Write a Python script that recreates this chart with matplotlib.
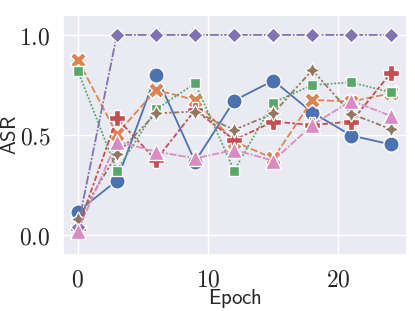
import matplotlib
matplotlib.use("Agg")
import matplotlib.pyplot as plt
import seaborn as sns
from matplotlib.ticker import FuncFormatter

sns.set_theme(style="darkgrid")
plt.rcParams['mathtext.fontset'] = 'cm'

epochs = [0, 3, 6, 9, 12, 15, 18, 21, 24]
s_blue = [0.117, 0.272, 0.80, 0.367, 0.672, 0.772, 0.612, 0.497, 0.453]
s_orange = [0.875, 0.505, 0.725, 0.675, 0.467, 0.383, 0.675, 0.667, 0.708]
s_green = [0.822, 0.322, 0.628, 0.758, 0.322, 0.662, 0.75, 0.763, 0.713]
s_red = [0.033, 0.583, 0.375, 0.625, 0.475, 0.567, 0.55, 0.567, 0.808]
s_purple = [0.04, 1.0, 1.0, 1.0, 1.0, 1.0, 1.0, 1.0, 1.0]
s_brown = [0.078, 0.405, 0.608, 0.617, 0.525, 0.608, 0.825, 0.605, 0.53]
s_pink = [0.02, 0.467, 0.417, 0.383, 0.425, 0.372, 0.55, 0.672, 0.595]

series = [s_blue, s_orange, s_green, s_red, s_purple, s_brown, s_pink]
palette = sns.color_palette("deep")
markers = ["o", "X", (4, 0, 45), "P", (4, 0, 0), (4, 1, 0), "^"]
dashes = ["", (4, 1.5), (1, 1), (3, 1.25, 1.5, 1.25), (5, 1, 1, 1),
          (3, 1.25, 1.25, 1.25, 1.25, 1.25), (4, 1, 4, 1, 1, 1)]

fig = plt.figure(figsize=(4.15, 3.11), dpi=100)
ax = fig.add_axes([0.152, 0.180, 0.829, 0.772])

for i, ys in enumerate(series):
    kw = dict(color=palette[i], marker=markers[i], markersize=11,
              markeredgecolor='white', markeredgewidth=1, linewidth=1.3)
    line, = ax.plot(epochs, ys, **kw)
    if dashes[i]:
        line.set_dashes(dashes[i])

ax.set_xlim(-1.13, 25.27)
ax.set_ylim(-0.1, 1.1)
ax.set_xticks([0, 10, 20])
ax.set_yticks([0.0, 0.5, 1.0])
ax.xaxis.set_major_formatter(FuncFormatter(lambda v, p: r'$%d$' % v))
ax.yaxis.set_major_formatter(FuncFormatter(lambda v, p: r'$%.1f$' % v))
ax.tick_params(axis='both', labelsize=17, pad=3)
ax.set_xlabel(r'$\mathsf{Epoch}$', fontsize=15)
ax.set_ylabel(r'$\mathsf{ASR}$', fontsize=15)
ax.xaxis.set_label_coords(0.5, -0.135)
ax.yaxis.set_label_coords(-0.125, 0.5)

fig.savefig("out.png", dpi=100)
